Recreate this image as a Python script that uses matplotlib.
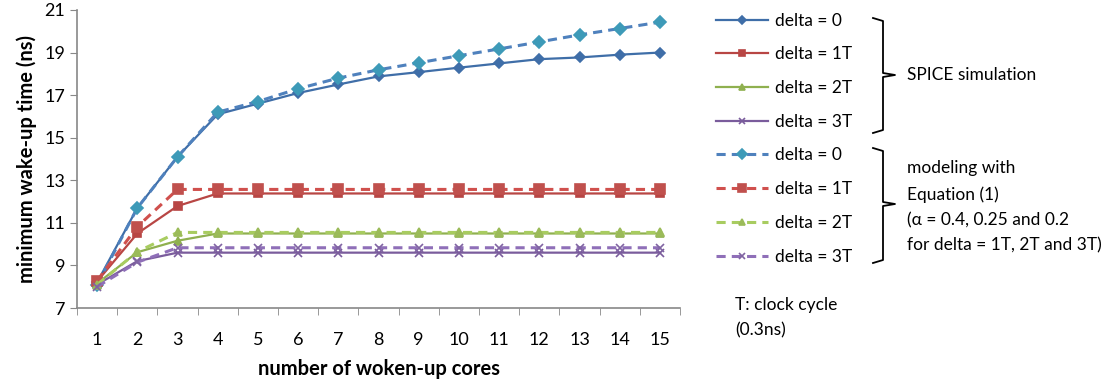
import matplotlib
matplotlib.use("Agg")
import matplotlib.pyplot as plt
from matplotlib.lines import Line2D

plt.rcParams['font.family'] = ['Lato', 'DejaVu Sans']

cores = list(range(1, 16))

# SPICE simulation
sim_d0 = [8.2, 11.7, 14.1, 16.1, 16.6, 17.1, 17.5, 17.88, 18.08, 18.29, 18.49, 18.69, 18.77, 18.9, 19.0]
sim_d1 = [8.25, 10.5, 11.79, 12.38, 12.38, 12.38, 12.38, 12.38, 12.38, 12.38, 12.38, 12.38, 12.38, 12.38, 12.38]
sim_d2 = [8.15, 9.62, 10.16, 10.5, 10.5, 10.5, 10.5, 10.5, 10.5, 10.5, 10.5, 10.5, 10.5, 10.5, 10.5]
sim_d3 = [8.1, 9.2, 9.6, 9.6, 9.6, 9.6, 9.6, 9.6, 9.6, 9.6, 9.6, 9.6, 9.6, 9.6, 9.6]

# modeling with Equation (1)
mod_d0 = [8.1, 11.7, 14.1, 16.2, 16.7, 17.3, 17.8, 18.19, 18.52, 18.85, 19.17, 19.5, 19.83, 20.13, 20.43]
mod_d1 = [8.28, 10.82, 12.57, 12.57, 12.57, 12.57, 12.57, 12.57, 12.57, 12.57, 12.57, 12.57, 12.57, 12.57, 12.57]
mod_d2 = [8.1, 9.64, 10.55, 10.55, 10.55, 10.55, 10.55, 10.55, 10.55, 10.55, 10.55, 10.55, 10.55, 10.55, 10.55]
mod_d3 = [8.0, 9.15, 9.83, 9.83, 9.83, 9.83, 9.83, 9.83, 9.83, 9.83, 9.83, 9.83, 9.83, 9.83, 9.83]

labels = ['delta = 0', 'delta = 1T', 'delta = 2T', 'delta = 3T']

fig = plt.figure(figsize=(11.2, 3.81), dpi=100)
ax = fig.add_axes([0.06875, 0.1916, 0.5384, 0.7822])

sim_style = [
    (sim_d0, '#3f6ea8', '#3f6ea8', 'D', 5),
    (sim_d1, '#b84644', '#b84644', 's', 6),
    (sim_d2, '#8fb04f', '#8fb04f', '^', 6),
    (sim_d3, '#7a5c9c', '#7a5c9c', 'x', 6),
]
mod_style = [
    (mod_d0, '#4f81bd', '#3d9ab8', 'D', 6),
    (mod_d1, '#d0504d', '#c0504d', 's', 7),
    (mod_d2, '#a8cc60', '#9bbb59', '^', 6),
    (mod_d3, '#8f6fb8', '#8064a2', 'x', 6),
]

handles = []
for (vals, c, mc, m, ms), lab in zip(sim_style, labels):
    h, = ax.plot(cores, vals, color=c, lw=1.6, marker=m, ms=ms,
                 markerfacecolor=mc, markeredgecolor=mc, mew=1.2, label=lab)
    handles.append(h)
for (vals, c, mc, m, ms), lab in zip(mod_style, labels):
    h, = ax.plot(cores, vals, color=c, lw=2.2, ls=(0, (3, 2)), marker=m, ms=ms,
                 markerfacecolor=mc, markeredgecolor=mc, mew=1.2, label=lab)
    handles.append(h)

ax.set_xlim(0.5, 15.5)
ax.set_ylim(7, 21)
ax.set_yticks(range(7, 22, 2))
ax.set_xticks(cores)
ax.set_xticks([x + 0.5 for x in range(0, 16)], minor=True)
ax.tick_params(axis='x', which='major', length=0, labelsize=13, pad=17)
ax.tick_params(axis='x', which='minor', length=5, color='#888888', direction='out')
ax.tick_params(axis='y', length=5, color='#888888', labelsize=13)
for s in ['top', 'right']:
    ax.spines[s].set_visible(False)
for s in ['left', 'bottom']:
    ax.spines[s].set_color('#888888')
    ax.spines[s].set_linewidth(1.2)

ax.set_xlabel('number of woken-up cores', fontsize=14.5, fontweight='bold', labelpad=8)
ax.set_ylabel('minimum wake-up time (ns)', fontsize=14.5, fontweight='bold', labelpad=5)

leg = fig.legend(handles=handles, loc='upper left', bbox_to_anchor=(0.633, 0.985),
                 frameon=False, fontsize=12.5, labelspacing=1.02, handlelength=3.0,
                 handletextpad=0.4, borderaxespad=0, markerscale=0.8)


def brace(x, y0, y1, ymid, w=10, tip=12):
    # x, y in pixel coords from top-left
    W, H = 1120, 381
    xs = [x - w, x, x, x + tip, x, x, x - w]
    ys = [y0, y0 + 3, ymid - 2, ymid, ymid + 2, y1 - 3, y1]
    fig.add_artist(Line2D([v / W for v in xs], [1 - v / H for v in ys],
                          color='black', lw=1.3, transform=fig.transFigure))


brace(883, 18, 133, 75)
brace(883, 148, 263, 204)

fs = 12.5
fig.text(907 / 1120, 1 - 75 / 381, 'SPICE simulation', fontsize=fs, va='center')
fig.text(907 / 1120, 1 - 168 / 381, 'modeling with', fontsize=fs, va='center')
fig.text(907 / 1120, 1 - 195 / 381, 'Equation (1)', fontsize=fs, va='center')
fig.text(907 / 1120, 1 - 220 / 381, '(α = 0.4, 0.25 and 0.2', fontsize=fs, va='center')
fig.text(907 / 1120, 1 - 245 / 381, 'for delta = 1T, 2T and 3T)', fontsize=fs, va='center')
fig.text(735 / 1120, 1 - 305 / 381, 'T: clock cycle', fontsize=fs, va='center')
fig.text(735 / 1120, 1 - 330 / 381, '(0.3ns)', fontsize=fs, va='center')

fig.savefig('out.png', dpi=100)
